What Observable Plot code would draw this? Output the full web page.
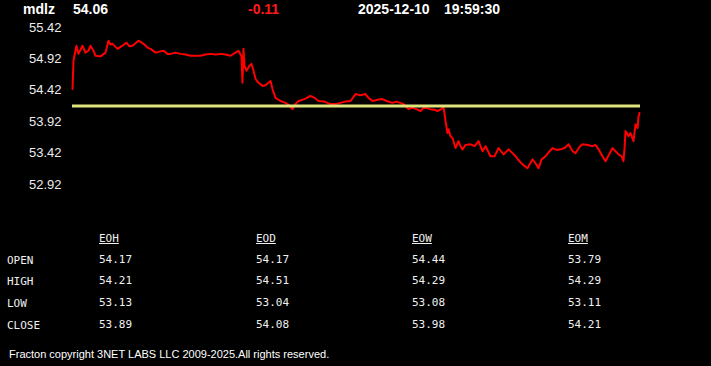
<!DOCTYPE html>
<html>
<head>
<meta charset="utf-8">
<script src="https://cdn.jsdelivr.net/npm/d3@7"></script>
<script src="https://cdn.jsdelivr.net/npm/@observablehq/plot@0.6"></script>
<style>
  html, body { margin: 0; padding: 0; background: #000; width: 711px; height: 366px; overflow: hidden; }
  #wrap { position: relative; width: 711px; height: 366px; background: #000; }
  .hdr { position: absolute; top: 1px; font: bold 14px "Liberation Sans", Arial, sans-serif; color: #fff; white-space: pre; }
  .tbl { position: absolute; font: 11px "DejaVu Sans Mono", "Liberation Mono", monospace; color: #f0f0f0; white-space: pre; line-height: 14px; }
  .u { text-decoration: underline; }
  #foot { position: absolute; left: 9px; top: 348px; font: 11px "Liberation Sans", Arial, sans-serif; color: #fff; white-space: pre; }
  #chart { position: absolute; left: 0; top: 0; }
</style>
</head>
<body>
<div id="wrap">
  <div id="chart"></div>
</div>
<script>
// ---- data ----
const symbol = "mdlz";
const lastPrice = "54.06";
const change = "-0.11";
const dateStr = "2025-12-10";
const timeStr = "19:59:30";
const prevClose = 54.17;
const yTicks = [55.42, 54.92, 54.42, 53.92, 53.42, 52.92];

// minutes into session
const minutes = [0,0.7,2.7,4.1,6.9,8.9,11,12.4,14.4,15.8,19.2,22.7,24.7,26.1,27.5,30.9,34.3,37.1,39.1,41.2,45.3,48.8,51.5,53.6,57,60.4,62.5,65.2,67.3,70.7,74.2,77.6,81,84.5,87.9,91.3,94.8,98.2,101.6,105,108.5,111.9,114,116,116.7,117.4,118.1,119.5,121.5,122.9,124.3,125.7,127.7,130.5,132.5,134.6,136,137.3,139.4,142.8,146.3,148.3,151.1,153.1,155.2,159.3,163.4,166.2,168.9,173,177.1,180.6,184,187.4,190.9,194.3,197.7,201.2,203.2,206,209.4,212.8,215.6,219.7,222.4,225.2,227.9,230.7,233.5,236.2,239,241,242.4,245.8,248.6,250.6,253.3,254.7,255.4,256.1,257.5,258.2,259.5,260.9,263,265,266.4,267.8,269.9,273.3,276.1,278.8,281.5,283.6,287,289.8,292.5,296,299.4,302.1,304.2,306.9,309,312.4,315.8,317.9,320,322.1,324.8,327.6,329.6,332.4,335.1,337.9,340.6,343.4,345.4,348.2,350.2,353.7,357,359.1,361.2,363.9,366,368,370.8,372.8,374.9,377,378.3,379,379.7,381.8,383.1,385.2,386.6,388,388.6,389.3];
const prices = [54.44,54.89,55.13,55.00,55.13,55.02,55.05,55.13,55.05,54.97,54.96,55.02,55.21,55.15,55.16,55.08,55.13,55.18,55.12,55.13,55.21,55.16,55.10,55.08,55.02,55.04,55.05,55.00,55.00,55.02,55.00,54.99,54.97,54.97,54.97,54.99,55.00,54.99,55.00,54.99,54.97,55.02,55.05,54.96,54.54,55.08,54.81,54.73,54.81,54.84,54.73,54.60,54.54,54.49,54.50,54.54,54.57,54.44,54.30,54.25,54.22,54.19,54.12,54.20,54.25,54.28,54.33,54.30,54.25,54.24,54.20,54.20,54.22,54.24,54.25,54.36,54.34,54.36,54.30,54.25,54.27,54.28,54.25,54.22,54.24,54.22,54.19,54.12,54.14,54.12,54.09,54.14,54.14,54.12,54.11,54.09,54.12,54.16,54.06,53.93,53.74,53.80,53.69,53.66,53.50,53.61,53.53,53.48,53.55,53.56,53.53,53.61,53.45,53.53,53.37,53.37,53.50,53.40,53.48,53.42,53.37,53.29,53.24,53.18,53.32,53.26,53.18,53.32,53.37,53.45,53.50,53.47,53.48,53.50,53.56,53.45,53.42,53.52,53.56,53.55,53.53,53.55,53.48,53.37,53.29,53.38,53.50,53.45,53.40,53.37,53.29,53.48,53.77,53.69,53.74,53.61,53.88,53.82,54.00,54.06];

const tableRows = ["OPEN", "HIGH", "LOW", "CLOSE"];
const tableCols = ["EOH", "EOD", "EOW", "EOM"];
const eoh = ["54.17", "54.21", "53.13", "53.89"];
const eod = ["54.17", "54.51", "53.04", "54.08"];
const eow = ["54.44", "54.29", "53.08", "53.98"];
const eom = ["53.79", "54.29", "53.11", "54.21"];
const footer = "Fracton copyright 3NET LABS LLC 2009-2025.All rights reserved.";

// ---- chart ----
const series = minutes.map((m, i) => ({m, p: prices[i]}));
const chart = Plot.plot({
  width: 711,
  height: 200,
  marginLeft: 72,
  marginRight: 71,
  marginTop: 27,
  marginBottom: 16,
  style: {background: "#000", color: "#ececec", fontSize: "13px", fontFamily: "'Liberation Sans', Arial, sans-serif"},
  x: {domain: [0, 390], axis: null},
  y: {domain: [52.92, 55.42]},
  marks: [
    Plot.axisY({ticks: yTicks, tickSize: 0, tickPadding: 11, tickFormat: d => d.toFixed(2), label: null}),
    Plot.line(series, {x: "m", y: "p", stroke: "#ff0000", strokeWidth: 2}),
    Plot.ruleY([prevClose], {stroke: "#dde47c", strokeWidth: 3})
  ]
});
document.getElementById("chart").appendChild(chart);

// ---- header / table / footer (HTML) ----
const wrap = document.getElementById("wrap");
function addDiv(cls, text, left, top, color, extra) {
  const d = document.createElement("div");
  d.className = cls;
  d.textContent = text;
  d.style.left = left + "px";
  d.style.top = top + "px";
  if (color) d.style.color = color;
  if (extra) d.classList.add(extra);
  wrap.appendChild(d);
}
addDiv("hdr", symbol, 23, 1);
addDiv("hdr", lastPrice, 73, 1);
addDiv("hdr", change, 248, 1, "#ff1a1a");
addDiv("hdr", dateStr, 358, 1);
addDiv("hdr", timeStr, 444, 1);

const colX = [99, 256, 412, 568];
const rowY = [254, 275, 297, 319];
const colVals = [eoh, eod, eow, eom];
tableCols.forEach((c, j) => addDiv("tbl", c, colX[j], 232, null, "u"));
tableRows.forEach((r, i) => {
  addDiv("tbl", r, 7, rowY[i]);
  colVals.forEach((vals, j) => addDiv("tbl", vals[i], colX[j], rowY[i] - 1));
});
const f = document.createElement("div");
f.id = "foot";
f.textContent = footer;
wrap.appendChild(f);
</script>
</body>
</html>
